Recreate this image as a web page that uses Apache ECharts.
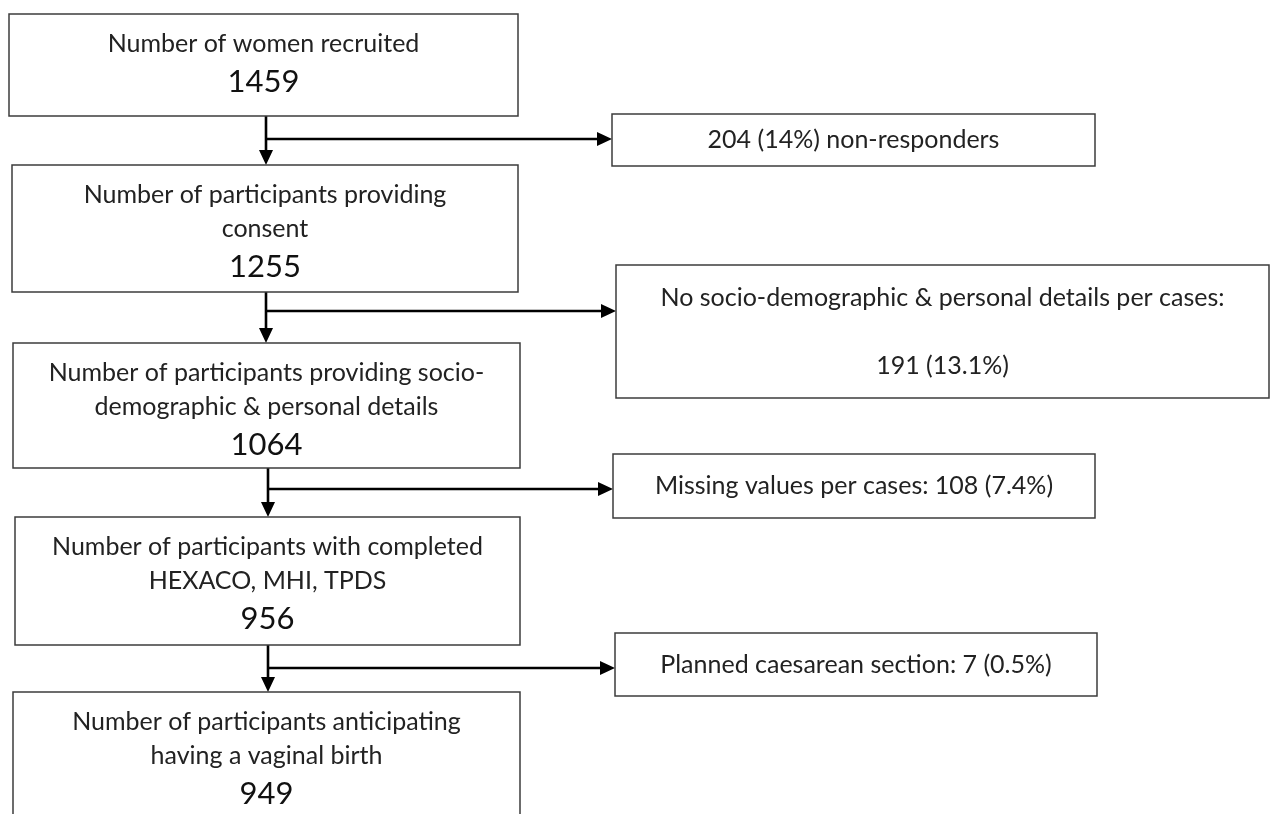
<!DOCTYPE html>
<html><head><meta charset="utf-8">
<script src="https://cdn.jsdelivr.net/npm/echarts@6/dist/echarts.min.js"></script>
<style>html,body{margin:0;padding:0;background:#fff;} #c{width:1271px;height:814px;}</style>
</head><body><div id="c"></div>
<script>
// ---- data ----
const stepLabels = [
  "Number of women recruited",
  "Number of participants providing\nconsent",
  "Number of participants providing socio-\ndemographic & personal details",
  "Number of participants with completed\nHEXACO, MHI, TPDS",
  "Number of participants anticipating\nhaving a vaginal birth"
];
const stepCounts = [1459, 1255, 1064, 956, 949];
const exclusionCounts = [204, 191, 108, 7];
const exclusionPercents = ["14%", "13.1%", "7.4%", "0.5%"];
const exclusionTemplates = [
  "{n} ({p}) non-responders",
  "No socio-demographic & personal details per cases:\n\n{n} ({p})",
  "Missing values per cases: {n} ({p})",
  "Planned caesarean section: {n} ({p})"
];

// ---- layout (pixel space of the hidden axes) ----
const stepBoxes = [[9,14,518,116],[12,165,518,292],[13,343,520,468],[15,517,520,645],[13,692,520,834]];
const exclusionBoxes = [[612,114,1095,166],[616,265,1269,398],[613,454,1095,518],[615,633,1097,696]];
const trunkX = [266, 266, 268, 268];
const branchY = [139, 311, 489, 668];

const LABEL_FONT = '400 25px Lato, "Open Sans", sans-serif';
const COUNT_FONT = '400 31px Lato, "Open Sans", sans-serif';
const TEXT_COLOR = '#222';
const BOX_STROKE = '#3c3c3c';

function exclusionText(i){
  return exclusionTemplates[i].replace('{n}', exclusionCounts[i]).replace('{p}', exclusionPercents[i]);
}

function renderStep(params, api){
  const i = api.value(0);
  const p0 = api.coord([api.value(1), api.value(2)]);
  const p1 = api.coord([api.value(3), api.value(4)]);
  const lines = stepLabels[i].split('\n');
  const cx = (p0[0]+p1[0])/2;
  const children = [{type:'rect', shape:{x:p0[0], y:p0[1], width:p1[0]-p0[0], height:p1[1]-p0[1]},
    style:{fill:'#fff', stroke:BOX_STROKE, lineWidth:1.5}}];
  lines.forEach((ln,k)=>{
    children.push({type:'text', style:{text:ln, x:cx, y:p0[1]+30+34*k, align:'center', verticalAlign:'middle', font:LABEL_FONT, fill:TEXT_COLOR}});
  });
  children.push({type:'text', style:{text:String(stepCounts[i]), x:cx, y:p0[1]+30+34*(lines.length-1)+38, align:'center', verticalAlign:'middle', font:COUNT_FONT, fill:'#111'}});
  return {type:'group', children};
}

function renderExclusion(params, api){
  const i = api.value(0);
  const p0 = api.coord([api.value(1), api.value(2)]);
  const p1 = api.coord([api.value(3), api.value(4)]);
  const lines = exclusionText(i).split('\n');
  const cx = (p0[0]+p1[0])/2, cy = (p0[1]+p1[1])/2;
  const lh = 34;
  const children = [{type:'rect', shape:{x:p0[0], y:p0[1], width:p1[0]-p0[0], height:p1[1]-p0[1]},
    style:{fill:'#fff', stroke:BOX_STROKE, lineWidth:1.5}}];
  lines.forEach((ln,k)=>{
    if(!ln) return;
    children.push({type:'text', style:{text:ln, x:cx, y:cy+(k-(lines.length-1)/2)*lh, align:'center', verticalAlign:'middle', font:LABEL_FONT, fill:TEXT_COLOR}});
  });
  return {type:'group', children};
}

function renderArrow(params, api){
  const top = api.coord([api.value(1), api.value(2)]);
  const bottom = api.coord([api.value(1), api.value(3)]);
  const branch = api.coord([api.value(1), api.value(4)]);
  const end = api.coord([api.value(5), api.value(4)]);
  const L = 15, W = 7;
  const st = {stroke:'#000', lineWidth:2.6};
  return {type:'group', children:[
    {type:'line', shape:{x1:top[0], y1:top[1], x2:bottom[0], y2:bottom[1]-L+1}, style:st},
    {type:'polygon', shape:{points:[[bottom[0]-W, bottom[1]-L],[bottom[0]+W, bottom[1]-L],[bottom[0], bottom[1]]]}, style:{fill:'#000'}},
    {type:'line', shape:{x1:branch[0], y1:branch[1], x2:end[0]-L+1, y2:end[1]}, style:st},
    {type:'polygon', shape:{points:[[end[0]-L, end[1]-W],[end[0]-L, end[1]+W],[end[0], end[1]]]}, style:{fill:'#000'}}
  ]};
}

const stepData = stepBoxes.map((b,i)=>[i, b[0], b[1], b[2], b[3]]);
const exclData = exclusionBoxes.map((b,i)=>[i, b[0], b[1], b[2], b[3]]);
const arrowData = trunkX.map((x,i)=>[i, x, stepBoxes[i][3], stepBoxes[i+1][1], branchY[i], exclusionBoxes[i][0]]);

const chart = echarts.init(document.getElementById('c'), null, {renderer:'canvas'});
chart.setOption({
  backgroundColor:'#fff',
  animation:false,
  grid:{left:0, right:0, top:0, bottom:0},
  xAxis:{type:'value', min:0, max:1271, show:false},
  yAxis:{type:'value', min:0, max:814, inverse:true, show:false},
  series:[
    {type:'custom', renderItem:renderArrow, data:arrowData, clip:false, z:1},
    {type:'custom', renderItem:renderStep, data:stepData, clip:false, z:2},
    {type:'custom', renderItem:renderExclusion, data:exclData, clip:false, z:2}
  ]
});
</script></body></html>
